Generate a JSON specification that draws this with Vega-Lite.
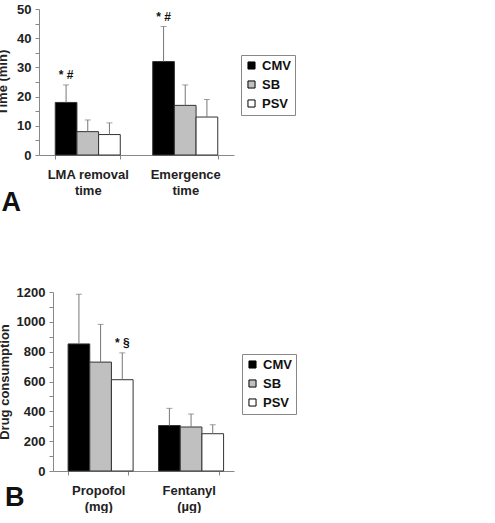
{
  "$schema": "https://vega.github.io/schema/vega-lite/v6.json",
  "background": "white",
  "padding": {"left": -4, "top": 3, "right": 0, "bottom": 0},
  "datasets": {
    "a": [
      {"cat": "LMA removal|time", "group": "CMV", "value": 18, "upper": 24, "note": "* #"},
      {"cat": "LMA removal|time", "group": "SB", "value": 8, "upper": 12, "note": ""},
      {"cat": "LMA removal|time", "group": "PSV", "value": 7, "upper": 11, "note": ""},
      {"cat": "Emergence|time", "group": "CMV", "value": 32, "upper": 44, "note": "* #"},
      {"cat": "Emergence|time", "group": "SB", "value": 17, "upper": 24, "note": ""},
      {"cat": "Emergence|time", "group": "PSV", "value": 13, "upper": 19, "note": ""}
    ],
    "b": [
      {"cat": "Propofol|(mg)", "group": "CMV", "value": 852, "upper": 1185, "note": ""},
      {"cat": "Propofol|(mg)", "group": "SB", "value": 730, "upper": 983, "note": ""},
      {"cat": "Propofol|(mg)", "group": "PSV", "value": 612, "upper": 792, "note": "* §"},
      {"cat": "Fentanyl|(µg)", "group": "CMV", "value": 305, "upper": 420, "note": ""},
      {"cat": "Fentanyl|(µg)", "group": "SB", "value": 295, "upper": 382, "note": ""},
      {"cat": "Fentanyl|(µg)", "group": "PSV", "value": 250, "upper": 310, "note": ""}
    ]
  },
  "spacing": 62,
  "vconcat": [
    {
      "width": 195,
      "height": 146,
      "data": {"name": "a"},
      "title": {"text": "A", "orient": "bottom", "anchor": "start", "frame": "bounds", "fontSize": 27, "fontWeight": "bold", "font": "Liberation Sans", "color": "#111", "offset": -7, "dx": 5},
      "encoding": {
        "x": {"field": "cat", "type": "nominal", "sort": ["LMA removal|time", "Emergence|time"],
          "scale": {"paddingInner": 0.333, "paddingOuter": 0.1667},
          "axis": {"title": null, "labelAngle": 0, "tickBand": "extent", "tickSize": 4, "labelPadding": 9, "labelLineHeight": 16, "labelExpr": "split(datum.label, '|')"}},
        "xOffset": {"field": "group", "type": "nominal", "sort": ["CMV", "SB", "PSV"]}
      },
      "layer": [
        {"mark": {"type": "bar", "stroke": "#333", "strokeWidth": 1},
         "encoding": {
           "y": {"field": "value", "type": "quantitative", "scale": {"domain": [0, 50], "nice": false},
             "axis": {"title": "Time (min)", "values": [0,5,10,15,20,25,30,35,40,45,50], "labelExpr": "datum.value % 10 == 0 ? datum.label : ''", "labelOverlap": false, "grid": false, "tickSize": 4, "labelPadding": 4, "titlePadding": 7}},
           "fill": {"field": "group", "type": "nominal", "scale": {"domain": ["CMV", "SB", "PSV"], "range": ["#000000", "#c0c0c0", "#ffffff"]},
             "legend": {"title": null, "orient": "none", "legendX": 202, "legendY": 46}}
         }},
        {"mark": {"type": "rule", "color": "#777", "strokeWidth": 1},
         "encoding": {"y": {"field": "value", "type": "quantitative",
             "axis": {"title": "Time (min)", "values": [0,5,10,15,20,25,30,35,40,45,50], "labelExpr": "datum.value % 10 == 0 ? datum.label : ''", "labelOverlap": false, "grid": false, "tickSize": 4, "labelPadding": 4, "titlePadding": 7}},
           "y2": {"field": "upper"}}},
        {"mark": {"type": "tick", "color": "#777", "thickness": 1, "size": 6},
         "encoding": {"y": {"field": "upper", "type": "quantitative",
             "axis": {"title": "Time (min)", "values": [0,5,10,15,20,25,30,35,40,45,50], "labelExpr": "datum.value % 10 == 0 ? datum.label : ''", "labelOverlap": false, "grid": false, "tickSize": 4, "labelPadding": 4, "titlePadding": 7}}}},
        {"mark": {"type": "text", "baseline": "bottom", "dy": -3, "fontSize": 12, "fontWeight": "bold", "font": "Liberation Sans", "color": "#111"},
         "encoding": {"y": {"field": "upper", "type": "quantitative",
             "axis": {"title": "Time (min)", "values": [0,5,10,15,20,25,30,35,40,45,50], "labelExpr": "datum.value % 10 == 0 ? datum.label : ''", "labelOverlap": false, "grid": false, "tickSize": 4, "labelPadding": 4, "titlePadding": 7}},
           "text": {"field": "note"}}}
      ]
    },
    {
      "width": 195,
      "height": 179,
      "data": {"name": "b"},
      "title": {"text": "B", "orient": "bottom", "anchor": "start", "frame": "bounds", "fontSize": 27, "fontWeight": "bold", "font": "Liberation Sans", "color": "#111", "offset": -28, "dx": 7},
      "encoding": {
        "x": {"field": "cat", "type": "nominal", "sort": ["Propofol|(mg)", "Fentanyl|(µg)"],
          "scale": {"range": [14, 195], "paddingInner": 0.333, "paddingOuter": 0.1667},
          "axis": {"title": null, "labelAngle": 0, "tickBand": "extent", "tickSize": 4, "labelPadding": 9, "labelLineHeight": 16, "labelExpr": "split(datum.label, '|')"}},
        "xOffset": {"field": "group", "type": "nominal", "sort": ["CMV", "SB", "PSV"]}
      },
      "layer": [
        {"mark": {"type": "bar", "stroke": "#333", "strokeWidth": 1},
         "encoding": {
           "y": {"field": "value", "type": "quantitative", "scale": {"domain": [0, 1200], "nice": false},
             "axis": {"title": "Drug consumption", "offset": -14, "values": [0,100,200,300,400,500,600,700,800,900,1000,1100,1200], "labelExpr": "datum.value % 200 == 0 ? datum.label : ''", "labelOverlap": false, "format": "d", "grid": false, "tickSize": 4, "labelPadding": 4, "titlePadding": 5}},
           "fill": {"field": "group", "type": "nominal", "scale": {"domain": ["CMV", "SB", "PSV"], "range": ["#000000", "#c0c0c0", "#ffffff"]},
             "legend": {"title": null, "orient": "none", "legendX": 203, "legendY": 62}}
         }},
        {"mark": {"type": "rule", "color": "#777", "strokeWidth": 1},
         "encoding": {"y": {"field": "value", "type": "quantitative",
             "axis": {"title": "Drug consumption", "offset": -14, "values": [0,100,200,300,400,500,600,700,800,900,1000,1100,1200], "labelExpr": "datum.value % 200 == 0 ? datum.label : ''", "labelOverlap": false, "format": "d", "grid": false, "tickSize": 4, "labelPadding": 4, "titlePadding": 5}},
           "y2": {"field": "upper"}}},
        {"mark": {"type": "tick", "color": "#777", "thickness": 1, "size": 6},
         "encoding": {"y": {"field": "upper", "type": "quantitative",
             "axis": {"title": "Drug consumption", "offset": -14, "values": [0,100,200,300,400,500,600,700,800,900,1000,1100,1200], "labelExpr": "datum.value % 200 == 0 ? datum.label : ''", "labelOverlap": false, "format": "d", "grid": false, "tickSize": 4, "labelPadding": 4, "titlePadding": 5}}}},
        {"mark": {"type": "text", "baseline": "bottom", "dy": -3, "fontSize": 12, "fontWeight": "bold", "font": "Liberation Sans", "color": "#111"},
         "encoding": {"y": {"field": "upper", "type": "quantitative",
             "axis": {"title": "Drug consumption", "offset": -14, "values": [0,100,200,300,400,500,600,700,800,900,1000,1100,1200], "labelExpr": "datum.value % 200 == 0 ? datum.label : ''", "labelOverlap": false, "format": "d", "grid": false, "tickSize": 4, "labelPadding": 4, "titlePadding": 5}},
           "text": {"field": "note"}}}
      ]
    }
  ],
  "resolve": {"scale": {"fill": "independent"}},
  "config": {
    "font": "Liberation Sans",
    "view": {"stroke": null},
    "axis": {"labelFont": "Liberation Sans", "labelFontWeight": "bold", "labelFontSize": 13, "labelColor": "#222",
      "titleFont": "Liberation Sans", "titleFontWeight": "bold", "titleFontSize": 13, "titleColor": "#222",
      "domainColor": "#888", "tickColor": "#888", "domainWidth": 1, "tickWidth": 1},
    "legend": {"strokeColor": "#888", "padding": 4, "symbolType": "square", "symbolSize": 50, "symbolStrokeColor": "#000", "symbolStrokeWidth": 1,
      "labelFont": "Liberation Sans", "labelFontWeight": "bold", "labelFontSize": 13, "labelColor": "#111", "rowPadding": 5, "labelOffset": 4}
  }
}
